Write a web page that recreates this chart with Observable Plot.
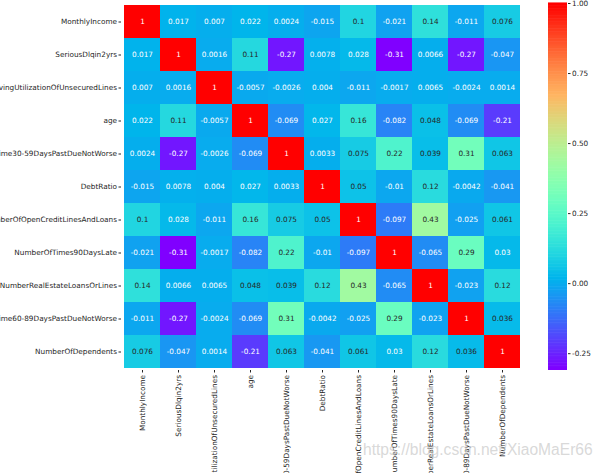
<!DOCTYPE html>
<html>
<head>
<meta charset="utf-8">
<script src="https://cdn.jsdelivr.net/npm/d3@7"></script>
<script src="https://cdn.jsdelivr.net/npm/@observablehq/plot@0.6"></script>
<style>
  html, body { margin: 0; padding: 0; background: white; }
  #wrap { position: relative; width: 603px; height: 473px; overflow: hidden; }
  #wrap svg { position: absolute; top: 0; overflow: hidden; }
  #wm { position: absolute; left: 363px; top: 441px; font: 15.6px "Liberation Sans", Arial, sans-serif; line-height: 18px; color: rgba(200,200,200,0.7); white-space: nowrap; }
</style>
</head>
<body>
<div id="wrap"></div>
<script>
const labels = [
  "MonthlyIncome",
  "SeriousDlqin2yrs",
  "RevolvingUtilizationOfUnsecuredLines",
  "age",
  "NumberOfTime30-59DaysPastDueNotWorse",
  "DebtRatio",
  "NumberOfOpenCreditLinesAndLoans",
  "NumberOfTimes90DaysLate",
  "NumberRealEstateLoansOrLines",
  "NumberOfTime60-89DaysPastDueNotWorse",
  "NumberOfDependents"
];
const corrRows = [
  [1, 0.017, 0.007, 0.022, 0.0024, -0.015, 0.1, -0.021, 0.14, -0.011, 0.076],
  [0.017, 1, 0.0016, 0.11, -0.27, 0.0078, 0.028, -0.31, 0.0066, -0.27, -0.047],
  [0.007, 0.0016, 1, -0.0057, -0.0026, 0.004, -0.011, -0.0017, 0.0065, -0.0024, 0.0014],
  [0.022, 0.11, -0.0057, 1, -0.069, 0.027, 0.16, -0.082, 0.048, -0.069, -0.21],
  [0.0024, -0.27, -0.0026, -0.069, 1, 0.0033, 0.075, 0.22, 0.039, 0.31, 0.063],
  [-0.015, 0.0078, 0.004, 0.027, 0.0033, 1, 0.05, -0.01, 0.12, -0.0042, -0.041],
  [0.1, 0.028, -0.011, 0.16, 0.075, 0.05, 1, -0.097, 0.43, -0.025, 0.061],
  [-0.021, -0.31, -0.0017, -0.082, 0.22, -0.01, -0.097, 1, -0.065, 0.29, 0.03],
  [0.14, 0.0066, 0.0065, 0.048, 0.039, 0.12, 0.43, -0.065, 1, -0.023, 0.12],
  [-0.011, -0.27, -0.0024, -0.069, 0.31, -0.0042, -0.025, 0.29, -0.023, 1, 0.036],
  [0.076, -0.047, 0.0014, -0.21, 0.063, -0.041, 0.061, 0.03, 0.12, 0.036, 1]
];
const colorbarTicks = [-0.25, 0, 0.25, 0.5, 0.75, 1];
const colorDomain = [-0.31, 1];

// matplotlib "rainbow" colormap (256-entry LUT)
function rainbowRGB(t) {
  const i = Math.max(0, Math.min(255, Math.floor(t * 256)));
  const x = i / 255;
  const c = v => Math.max(0, Math.min(1, v));
  return [c(Math.abs(2 * x - 0.5)), c(Math.sin(Math.PI * x)), c(Math.cos(Math.PI * x / 2))];
}
function rainbow(t) {
  const [r, g, b] = rainbowRGB(t);
  return d3.rgb(r * 255, g * 255, b * 255).formatHex();
}
function luminance(t) {
  const lin = c => c <= 0.03928 ? c / 12.92 : Math.pow((c + 0.055) / 1.055, 2.4);
  const [r, g, b] = rainbowRGB(t);
  return 0.2126 * lin(r) + 0.7152 * lin(g) + 0.0722 * lin(b);
}
const norm = v => (v - colorDomain[0]) / (colorDomain[1] - colorDomain[0]);

const cells = [];
corrRows.forEach((row, i) => row.forEach((v, j) => cells.push({row: labels[i], col: labels[j], value: v})));
const darkText = cells.filter(d => luminance(norm(d.value)) > 0.408);
const lightText = cells.filter(d => luminance(norm(d.value)) <= 0.408);

const font = {fontFamily: "'DejaVu Sans', sans-serif", fontSize: "7.3px", background: "transparent", color: "#262626"};

const heat = Plot.plot({
  width: 603, height: 473,
  marginLeft: 121, marginRight: 80, marginTop: 3, marginBottom: 103,
  style: font,
  x: {domain: labels, padding: 0, label: null},
  y: {domain: labels, padding: 0, label: null},
  color: {type: "linear", domain: colorDomain, interpolate: rainbow},
  marks: [
    Plot.cell(cells, {x: "col", y: "row", fill: "value", inset: 0}),
    Plot.text(lightText, {x: "col", y: "row", text: d => String(d.value), fill: "white", fontSize: 7.3}),
    Plot.text(darkText, {x: "col", y: "row", text: d => String(d.value), fill: "#262626", fontSize: 7.3}),
    Plot.axisY({tickSize: 2.5, tickPadding: 2, label: null, stroke: "#262626"}),
    Plot.axisX({anchor: "bottom", tickRotate: -90, tickSize: 2.5, tickPadding: 2, label: null, stroke: "#262626"})
  ]
});
heat.style.left = "0px";

const steps = d3.range(256).map(i => ({
  lo: colorDomain[0] + (colorDomain[1] - colorDomain[0]) * i / 256,
  hi: colorDomain[0] + (colorDomain[1] - colorDomain[0]) * (i + 1) / 256
}));
const bar = Plot.plot({
  width: 56, height: 473,
  marginLeft: 0, marginRight: 37, marginTop: 3, marginBottom: 103,
  style: font,
  x: {domain: [0, 1], axis: null},
  y: {domain: colorDomain, label: null},
  color: {type: "linear", domain: colorDomain, interpolate: rainbow},
  marks: [
    Plot.rect(steps, {x1: 0, x2: 1, y1: "lo", y2: d => d.hi + 0.002, fill: d => (d.lo + d.hi) / 2}),
    Plot.axisY({anchor: "right", ticks: colorbarTicks, tickFormat: d => d.toFixed(2), tickSize: 2.5, tickPadding: 2, label: null, stroke: "#262626"})
  ]
});
bar.style.left = "548px";

const wrap = document.getElementById("wrap");
wrap.appendChild(heat);
wrap.appendChild(bar);
const wm = document.createElement("div");
wm.id = "wm";
wm.textContent = "https://blog.csdn.net/XiaoMaEr66";
wrap.appendChild(wm);
</script>
</body>
</html>
